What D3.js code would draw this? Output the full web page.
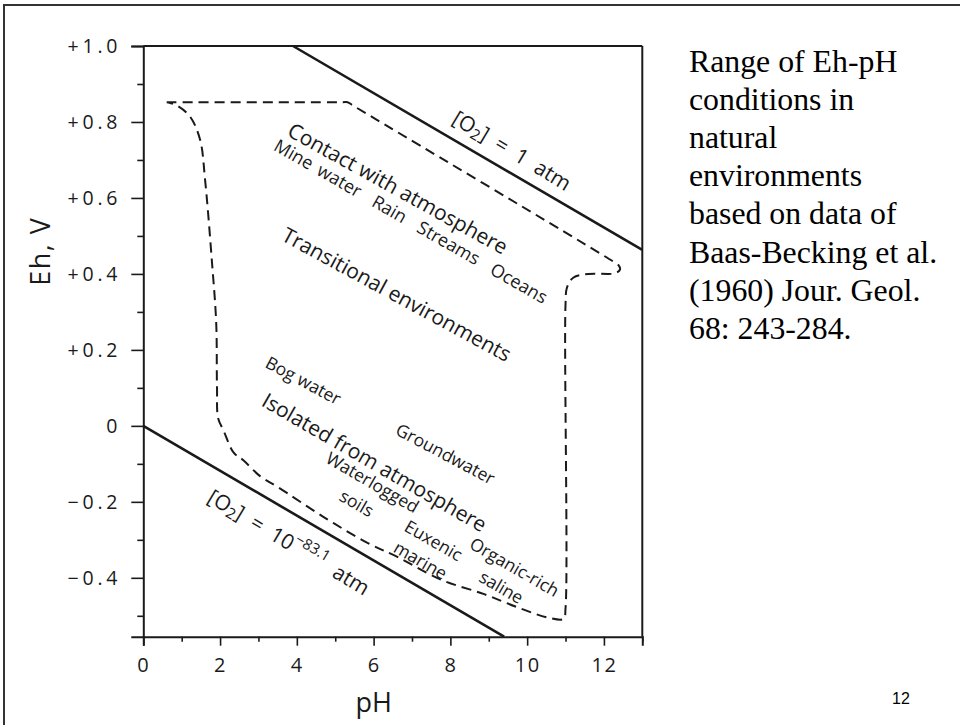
<!DOCTYPE html>
<html>
<head>
<meta charset="utf-8">
<script src="https://cdn.jsdelivr.net/npm/d3@7"></script>
<style>
  html, body { margin: 0; padding: 0; background: #fff; }
  svg { display: block; }
</style>
</head>
<body>
<svg id="chart" width="960" height="725"></svg>
<script>
// ---------- data ----------
const xMajorTicks = [0, 2, 4, 6, 8, 10, 12];
const xMinorTicks = [1, 3, 5, 7, 9, 11, 13];
const yMajorTicks = [1.0, 0.8, 0.6, 0.4, 0.2, 0, -0.2, -0.4];
const yTickLabels = ["+1.0", "+0.8", "+0.6", "+0.4", "+0.2", "0", "\u22120.2", "\u22120.4"];
const yMinorTicks = [0.9, 0.7, 0.5, 0.3, 0.1, -0.1, -0.3, -0.5];

// [O2] = 1 atm boundary (pH, Eh)
const upperLinePH = [3.9, 13.0];
const upperLineEh = [1.0, 0.463];
// [O2] = 10^-83.1 atm boundary (pH, Eh)
const lowerLinePH = [0.0, 9.4];
const lowerLineEh = [0.0, -0.555];

// natural environments envelope (pH, Eh), traced clockwise
const envelopePH = [0.61, 5.20, 5.32, 5.50, 12.22, 12.38, 12.42, 12.30, 11.60, 11.20, 11.04, 11.00, 11.00, 10.95, 10.55, 9.76, 8.88, 7.76, 6.62, 5.84, 4.70, 3.49, 3.05, 2.60, 2.35, 2.09, 1.95, 1.92, 1.90, 1.79, 1.61, 1.48, 1.22, 0.90, 0.70, 0.61];
const envelopeEh = [0.852, 0.852, 0.852, 0.841, 0.434, 0.423, 0.412, 0.402, 0.400, 0.390, 0.365, 0.320, -0.480, -0.508, -0.505, -0.478, -0.443, -0.405, -0.345, -0.308, -0.240, -0.160, -0.133, -0.090, -0.070, -0.012, 0.020, 0.100, 0.270, 0.430, 0.647, 0.753, 0.814, 0.842, 0.850, 0.852];

// in-plot labels: text, anchor pH, anchor Eh, rotation, size class
const labelTexts  = ["Contact with atmosphere", "Mine water  Rain  Streams  Oceans", "Transitional environments", "Bog water", "Groundwater", "Isolated from atmosphere", "Waterlogged", "soils", "Euxenic", "marine", "Organic-rich", "saline"];
const labelPH     = [6.64, 6.98, 6.61, 4.18, 7.88, 6.03, 5.98, 5.57, 7.57, 7.23, 9.68, 9.34];
const labelEh     = [0.626, 0.540, 0.347, 0.121, -0.072, -0.095, -0.147, -0.202, -0.300, -0.352, -0.370, -0.423];
const labelAngle  = [29, 29.8, 28.5, 28, 28, 30, 30, 30, 30, 30, 30, 30];
const labelBig    = [true, false, true, false, false, true, false, false, false, false, false, false];

const noteLines = ["Range of Eh-pH", "conditions in", "natural", "environments", "based on data of", "Baas-Becking et al.", "(1960) Jour. Geol.", "68: 243-284."];
const slideNumber = "12";

// ---------- layout ----------
const svg = d3.select("#chart");
const x = d3.scaleLinear().domain([0, 13]).range([143.3, 642.3]);
const y = d3.scaleLinear().domain([-0.555, 1.0]).range([636.7, 46]);
const ink = "#1a1a1a";
const chartFont = "'Open Sans', 'Noto Sans', sans-serif";

// slide border
svg.append("rect").attr("x", 4).attr("y", 5).attr("width", 1000).attr("height", 800)
  .attr("fill", "none").attr("stroke", "#333").attr("stroke-width", 2);

// frame top & right
svg.append("line").attr("x1", x(0)).attr("x2", x(13)).attr("y1", y(1.0)).attr("y2", y(1.0))
  .attr("stroke", ink).attr("stroke-width", 2);
svg.append("line").attr("x1", x(13)).attr("x2", x(13)).attr("y1", y(1.0)).attr("y2", y(-0.555))
  .attr("stroke", ink).attr("stroke-width", 2);

// left axis
const yAxis = d3.axisLeft(y).tickValues(yMajorTicks).tickSize(12).tickPadding(10)
  .tickFormat((d, i) => yTickLabels[i]);
const gy = svg.append("g").attr("transform", `translate(${x(0)},0)`).call(yAxis);
gy.select(".domain").attr("stroke", ink).attr("stroke-width", 2);
gy.selectAll(".tick line").attr("stroke", ink).attr("stroke-width", 1.6);
gy.selectAll(".tick text").attr("font-family", chartFont).attr("font-size", 19.5)
  .attr("letter-spacing", 3.8).attr("fill", ink);
const yMinor = d3.axisLeft(y).tickValues(yMinorTicks).tickSize(6).tickFormat("");
const gym = svg.append("g").attr("transform", `translate(${x(0)},0)`).call(yMinor);
gym.select(".domain").remove();
gym.selectAll(".tick line").attr("stroke", ink).attr("stroke-width", 1.6);

// bottom axis
const xAxis = d3.axisBottom(x).tickValues(xMajorTicks).tickSize(9).tickPadding(12)
  .tickFormat(d3.format("d"));
const gx = svg.append("g").attr("transform", `translate(0,${y(-0.555)})`).call(xAxis);
gx.select(".domain").attr("stroke", ink).attr("stroke-width", 2);
gx.selectAll(".tick line").attr("stroke", ink).attr("stroke-width", 1.6);
gx.selectAll(".tick text").attr("font-family", chartFont).attr("font-size", 20)
  .attr("letter-spacing", 1.5).attr("fill", ink);
const xMinor = d3.axisBottom(x).tickValues(xMinorTicks).tickSize(5).tickFormat("");
const gxm = svg.append("g").attr("transform", `translate(0,${y(-0.555)})`).call(xMinor);
gxm.select(".domain").remove();
gxm.selectAll(".tick line").attr("stroke", ink).attr("stroke-width", 1.6);

// axis titles
svg.append("text").attr("x", x(6)).attr("y", 712).attr("text-anchor", "middle")
  .attr("font-family", chartFont).attr("font-size", 27).attr("fill", ink).text("pH");
svg.append("text").attr("transform", `translate(50,${y(0.46)}) rotate(-90)`).attr("text-anchor", "middle")
  .attr("font-family", chartFont).attr("font-size", 27).attr("letter-spacing", 1.5)
  .attr("fill", ink).text("Eh, V");

// solid boundary lines
const line = d3.line().x(d => x(d[0])).y(d => y(d[1]));
svg.append("path").datum(upperLinePH.map((p, i) => [p, upperLineEh[i]]))
  .attr("d", line).attr("fill", "none").attr("stroke", ink).attr("stroke-width", 2.6);
svg.append("path").datum(lowerLinePH.map((p, i) => [p, lowerLineEh[i]]))
  .attr("d", line).attr("fill", "none").attr("stroke", ink).attr("stroke-width", 2.6);

// dashed envelope
const curve = d3.line().x(d => x(d[0])).y(d => y(d[1])).curve(d3.curveCatmullRom.alpha(0.5));
svg.append("path").datum(envelopePH.map((p, i) => [p, envelopeEh[i]]))
  .attr("d", curve).attr("fill", "none").attr("stroke", ink).attr("stroke-width", 2)
  .attr("stroke-dasharray", "10,6");

// in-plot labels
labelTexts.forEach((t, i) => {
  svg.append("text")
    .attr("transform", `translate(${x(labelPH[i])},${y(labelEh[i])}) rotate(${labelAngle[i]})`)
    .attr("text-anchor", "middle").attr("dominant-baseline", "central")
    .attr("font-family", chartFont).attr("font-size", labelBig[i] ? 21 : (i === 1 ? 18 : 17.5))
    .attr("word-spacing", i === 1 ? 3 : 0)
    .attr("fill", ink).attr("xml:space", "preserve").style("white-space", "pre")
    .text(t);
});

// [O2] = 1 atm
const o2a = svg.append("text")
  .attr("transform", `translate(${x(9.61)},${y(0.726)}) rotate(31)`)
  .attr("text-anchor", "middle").attr("dominant-baseline", "central")
  .attr("font-family", chartFont).attr("font-size", 21).attr("fill", ink)
  .attr("xml:space", "preserve").style("white-space", "pre");
o2a.append("tspan").text("[O");
o2a.append("tspan").attr("font-size", 15).attr("dy", 5).text("2");
o2a.append("tspan").attr("dy", -5).text("]  =  1  atm");

// [O2] = 10^-83.1 atm
const o2b = svg.append("text")
  .attr("transform", `translate(${x(3.80)},${y(-0.305)}) rotate(31)`)
  .attr("text-anchor", "middle").attr("dominant-baseline", "central")
  .attr("font-family", chartFont).attr("font-size", 21).attr("fill", ink)
  .attr("xml:space", "preserve").style("white-space", "pre");
o2b.append("tspan").text("[O");
o2b.append("tspan").attr("font-size", 15).attr("dy", 5).text("2");
o2b.append("tspan").attr("dy", -5).text("]  =  10");
o2b.append("tspan").attr("font-size", 15).attr("dy", -8).text("\u221283.1");
o2b.append("tspan").attr("dy", 8).text("  atm");

// side note
const note = svg.append("text").attr("font-family", "'Liberation Serif', 'Times New Roman', serif")
  .attr("font-size", 31.8).attr("fill", "#000");
noteLines.forEach((t, i) => {
  note.append("tspan").attr("x", 689).attr("y", 72 + i * 38.1).text(t);
});

// slide number
svg.append("text").attr("x", 901).attr("y", 704).attr("text-anchor", "middle")
  .attr("font-family", "'Liberation Sans', Arial, sans-serif").attr("font-size", 16)
  .attr("fill", "#000").text(slideNumber);
</script>
</body>
</html>
